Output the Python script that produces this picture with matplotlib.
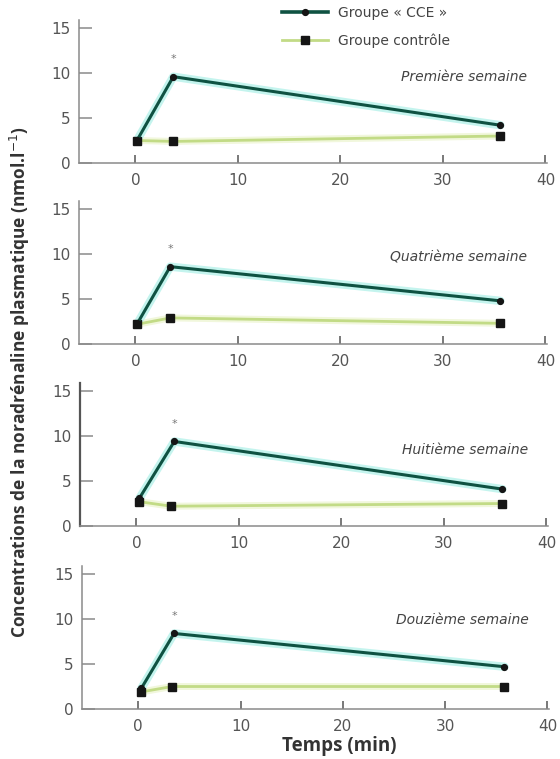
import matplotlib
matplotlib.use("Agg")
import matplotlib.pyplot as plt
from matplotlib.lines import Line2D

plt.rcParams['font.family'] = ['Open Sans', 'DejaVu Sans']

# data (time in min, noradrenaline in nmol/l)
weeks = ["Première semaine", "Quatrième semaine", "Huitième semaine", "Douzième semaine"]
cce_t = [[0.2, 3.7, 35.6], [0.2, 3.4, 35.6], [0.3, 3.7, 35.7], [0.3, 3.5, 35.8]]
cce_y = [[2.6, 9.6, 4.2], [2.3, 8.6, 4.8], [3.1, 9.4, 4.1], [2.3, 8.4, 4.7]]
ctrl_t = [[0.2, 3.7, 35.6], [0.2, 3.4, 35.6], [0.3, 3.4, 35.7], [0.3, 3.3, 35.8]]
ctrl_y = [[2.5, 2.4, 3.0], [2.2, 2.9, 2.3], [2.7, 2.2, 2.5], [1.9, 2.5, 2.5]]
xticks = [0, 10, 20, 30, 40]
yticks = [0, 5, 10, 15]

cce_color = '#0f5242'
ctrl_color = '#c2db86'
grey = '#8a8a8a'
tick_font = 'DejaVu Sans'

W, H = 560, 759
fig = plt.figure(figsize=(W / 100, H / 100), dpi=100)

# panel boxes in pixels: left, y of zero line, right
boxes = [(79, 163, 547), (79, 344, 547), (80, 526, 548), (82, 709, 549)]
panel_h = 143
label_y = [9.6, 9.6, 8.4, 9.9]

for i, (l, b, r) in enumerate(boxes):
    ax = fig.add_axes([l / W, (H - b) / H, (r - l) / W, panel_h / H])
    # soft halos behind the lines (like the scanned figure)
    ax.plot(ctrl_t[i], ctrl_y[i], color='#f1f7dc', lw=5, zorder=1, solid_capstyle='round')
    ax.plot(cce_t[i], cce_y[i], color='#c4f4ee', lw=6, zorder=1, solid_capstyle='round')
    ax.plot(ctrl_t[i], ctrl_y[i], color=ctrl_color, lw=2, marker='s', ms=5.5,
            mfc='#151515', mec='#151515', zorder=2)
    ax.plot(cce_t[i], cce_y[i], color=cce_color, lw=2.2, marker='o', ms=4.2,
            mfc='#151515', mec='#151515', zorder=3)
    # significance star over the peak
    ax.text(cce_t[i][1], cce_y[i][1] + 1.4, '*', ha='center', va='bottom',
            fontsize=8, color='#777777', family=tick_font)
    ax.text(38.2, label_y[i], weeks[i], ha='right', va='center', family=tick_font,
            fontsize=10, style='italic', color='#444444')

    ax.set_xlim(-5.5, 40.15)
    ax.set_ylim(0, 15.9)
    ax.set_xticks(xticks)
    ax.set_yticks(yticks)
    for s in ['top', 'right']:
        ax.spines[s].set_visible(False)
    ax.spines['left'].set_color('#555555' if i == 2 else grey)
    ax.spines['bottom'].set_color(grey)
    ax.spines['left'].set_linewidth(1.6 if i == 2 else 1.1)
    ax.spines['bottom'].set_linewidth(1.1)
    ax.tick_params(axis='x', direction='in', length=6, width=1.1, color='#555555',
                   labelsize=11, labelcolor='#555555', pad=7)
    ax.tick_params(axis='y', direction='in', length=9, width=1.1, color=grey,
                   labelsize=11, labelcolor='#555555', pad=6)
    for lab in ax.get_xticklabels() + ax.get_yticklabels():
        lab.set_family(tick_font)
    ax.patch.set_alpha(0)

# legend at the top
handles = [
    Line2D([], [], color=cce_color, lw=2.6, marker='o', ms=4.2, mfc='#151515', mec='#151515'),
    Line2D([], [], color=ctrl_color, lw=2, marker='s', ms=5.5, mfc='#151515', mec='#151515'),
]
leg = fig.legend(handles, ['Groupe « CCE »', 'Groupe contrôle'], loc='upper left',
                 bbox_to_anchor=(282 / W, (H - 6) / H), frameon=False,
                 handlelength=3.3, labelspacing=0.95, handletextpad=0.7,
                 borderpad=0, borderaxespad=0, labelcolor='#444444',
                 prop={'family': tick_font, 'size': 10})

fig.text(20 / W, (H - 382) / H,
         'Concentrations de la noradrénaline plasmatique (nmol.l$^{-1}$)',
         rotation=90, ha='center', va='center', fontsize=12.5, fontweight='bold',
         color='#333333')
fig.text(339 / W, (H - 746) / H, 'Temps (min)', ha='center', va='center',
         fontsize=13.5, fontweight='bold', color='#333333')

fig.savefig('out.png', dpi=100)
